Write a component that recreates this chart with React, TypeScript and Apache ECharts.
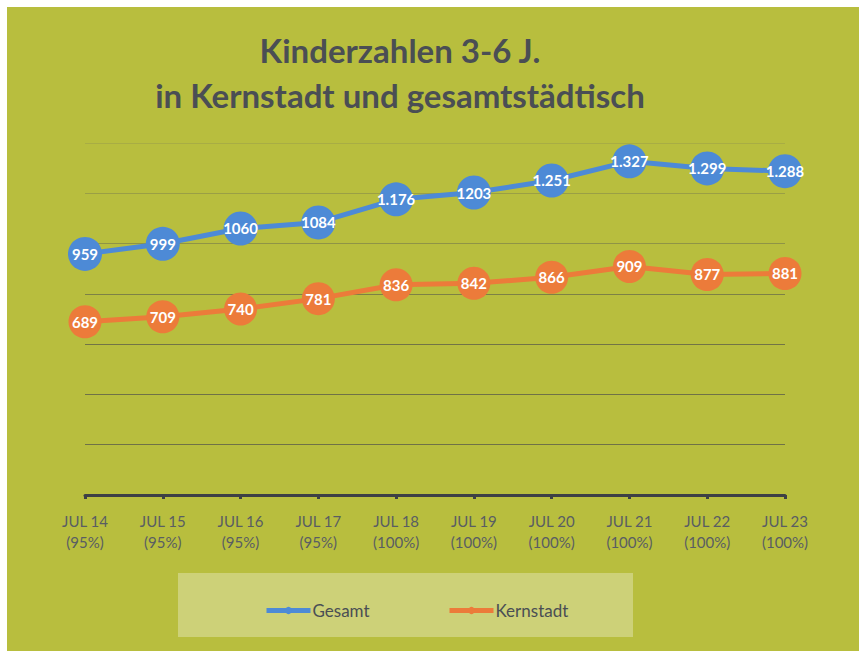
import React, { useEffect, useRef } from "react";
import * as echarts from "echarts";

const categories = [
  "JUL 14\n(95%)", "JUL 15\n(95%)", "JUL 16\n(95%)", "JUL 17\n(95%)", "JUL 18\n(100%)",
  "JUL 19\n(100%)", "JUL 20\n(100%)", "JUL 21\n(100%)", "JUL 22\n(100%)", "JUL 23\n(100%)",
];
const gesamtValues = [959, 999, 1060, 1084, 1176, 1203, 1251, 1327, 1299, 1288];
const gesamtLabels = ["959", "999", "1060", "1084", "1.176", "1203", "1.251", "1.327", "1.299", "1.288"];
const kernstadtValues = [689, 709, 740, 781, 836, 842, 866, 909, 877, 881];
const kernstadtLabels = ["689", "709", "740", "781", "836", "842", "866", "909", "877", "881"];
const titleLines = ["Kinderzahlen 3-6 J.", "in Kernstadt und gesamtstädtisch"];

const FONT = "Lato, 'Open Sans', sans-serif";
const BG = "#b8be3e";
const BLUE = "#4d8ad6";
const ORANGE = "#ec7b3a";
const TEXT = "#4a4e54";

export default function App() {
  const ref = useRef<HTMLDivElement>(null);
  useEffect(() => {
    if (!ref.current) return;
    const chart = echarts.init(ref.current, undefined, { renderer: "svg" });
    const labelStyle = {
      show: true,
      position: "inside" as const,
      color: "#ffffff",
      fontFamily: FONT,
      fontWeight: "bold" as const,
      fontSize: 15,
    };
    const legendCommon = {
      top: 590,
      itemWidth: 44,
      itemHeight: 9,
      itemGap: 0,
      lineStyle: { width: 5 },
      textStyle: { fontFamily: FONT, fontSize: 17, color: TEXT, padding: [0, 0, 0, -3] },
    };
    chart.setOption({
      animation: false,
      backgroundColor: BG,
      graphic: [
        {
          type: "rect",
          shape: { x: 171, y: 566, width: 455, height: 64 },
          style: { fill: "rgba(255,255,255,0.3)" },
          z: -10,
          silent: true,
        },
        {
          type: "text",
          style: {
            text: titleLines[0], x: 393, y: 43, align: "center", verticalAlign: "middle",
            fontFamily: FONT, fontWeight: "bold", fontSize: 33, fill: TEXT,
          },
        },
        {
          type: "text",
          style: {
            text: titleLines[1], x: 393, y: 88, align: "center", verticalAlign: "middle",
            fontFamily: FONT, fontWeight: "bold", fontSize: 33, fill: TEXT,
          },
        },
      ],
      legend: [
        { ...legendCommon, data: ["Gesamt"], left: 252 },
        { ...legendCommon, data: ["Kernstadt"], left: 435 },
      ],
      grid: { left: 78, right: 74, top: 136, bottom: 156 },
      xAxis: {
        type: "category",
        data: categories,
        boundaryGap: false,
        axisLine: { show: true, lineStyle: { color: "#3d4045", width: 3 } },
        axisTick: { show: true, length: 4, lineStyle: { color: "#3d4045", width: 3 } },
        axisLabel: {
          color: "#595d63", fontFamily: FONT, fontSize: 15, lineHeight: 21, margin: 15,
        },
      },
      yAxis: {
        type: "value",
        min: 0,
        max: 1400,
        interval: 200,
        axisLabel: { show: false },
        axisLine: { show: false },
        axisTick: { show: false },
        splitLine: {
          show: true,
          lineStyle: {
            width: 1.2,
            color: ["#3d4045", "#6f7147", "#6f7147", "#727446", "#7d8146", "#8f9446", "#9a9f45", "#a8ad44"],
          },
        },
      },
      series: [
        {
          name: "Gesamt",
          type: "line",
          data: gesamtValues,
          symbol: "circle",
          symbolSize: 34,
          lineStyle: { color: BLUE, width: 5 },
          itemStyle: { color: BLUE },
          label: { ...labelStyle, formatter: (p: any) => gesamtLabels[p.dataIndex] },
          z: 3,
        },
        {
          name: "Kernstadt",
          type: "line",
          data: kernstadtValues,
          symbol: "circle",
          symbolSize: 33,
          lineStyle: { color: ORANGE, width: 5 },
          itemStyle: { color: ORANGE },
          label: { ...labelStyle, formatter: (p: any) => kernstadtLabels[p.dataIndex] },
          z: 3,
        },
      ],
    });
    return () => chart.dispose();
  }, []);
  return (
    <div style={{ position: "absolute", left: 0, top: 0, width: 859, height: 651, background: "#ffffff" }}>
      <div ref={ref} style={{ position: "absolute", left: 7, top: 7, width: 852, height: 644 }} />
    </div>
  );
}
